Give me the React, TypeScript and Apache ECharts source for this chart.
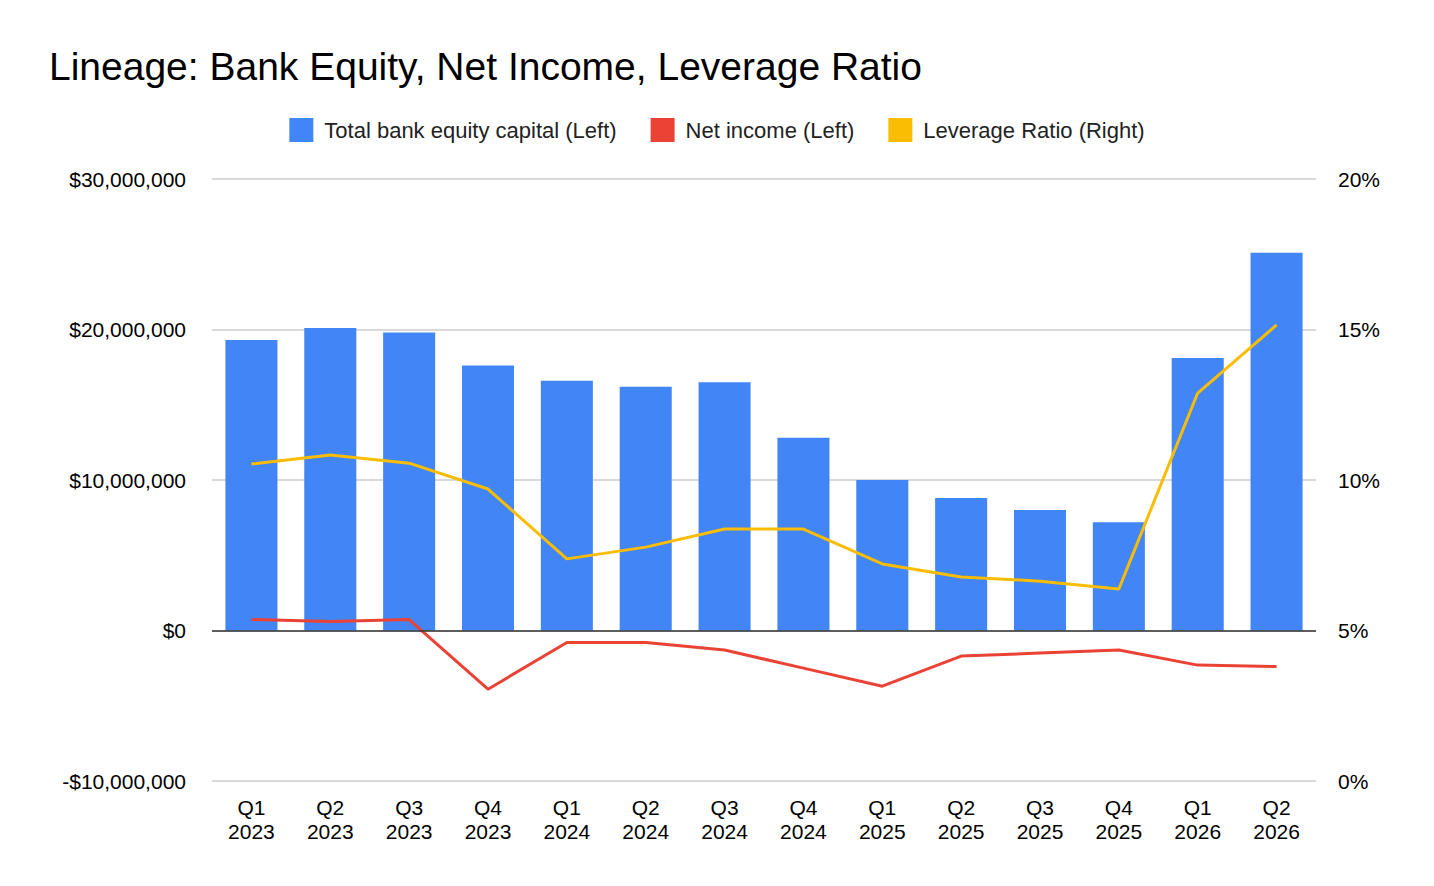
import { useEffect, useRef } from "react"
import * as echarts from "echarts"

const categories = ["Q1\n2023", "Q2\n2023", "Q3\n2023", "Q4\n2023", "Q1\n2024", "Q2\n2024", "Q3\n2024", "Q4\n2024", "Q1\n2025", "Q2\n2025", "Q3\n2025", "Q4\n2025", "Q1\n2026", "Q2\n2026"]
const equity = [19300000, 20100000, 19800000, 17600000, 16600000, 16200000, 16500000, 12800000, 10000000, 8800000, 8000000, 7200000, 18100000, 25100000]
const netIncome = [730000, 600000, 730000, -3900000, -800000, -800000, -1300000, -2500000, -3700000, -1700000, -1500000, -1300000, -2300000, -2400000]
const leverage = [10.53, 10.83, 10.56, 9.7, 7.38, 7.77, 8.37, 8.37, 7.21, 6.78, 6.64, 6.38, 12.89, 15.15]

const money = (v: number) => (v < 0 ? "-$" : "$") + Math.abs(v).toLocaleString("en-US")

export default function App() {
  const ref = useRef<HTMLDivElement>(null)

  useEffect(() => {
    document.body.style.margin = "0"
    if (!ref.current) return
    const chart = echarts.init(ref.current, null, { renderer: "svg" })
    const font = "Arial, Liberation Sans, sans-serif"
    chart.setOption({
      animation: false,
      textStyle: { fontFamily: font },
      title: {
        text: "Lineage: Bank Equity, Net Income, Leverage Ratio",
        left: 44, top: 42,
        textStyle: { fontSize: 39, fontWeight: "normal", color: "#000", fontFamily: font },
      },
      legend: {
        top: 113, left: "center", itemGap: 34,
        textStyle: { fontSize: 22, color: "#222", padding: [0, 0, 0, 6] },
        data: [
          { name: "Total bank equity capital (Left)", icon: "rect", itemStyle: { color: "#4285f4" } },
          { name: "Net income (Left)", icon: "rect" },
          { name: "Leverage Ratio (Right)", icon: "rect" },
        ],
        itemWidth: 24, itemHeight: 24,
      },
      grid: { left: 212, right: 118, top: 179, bottom: 105 },
      xAxis: {
        type: "category", data: categories,
        axisLine: { show: false }, axisTick: { show: false },
        axisLabel: { fontSize: 21, color: "#000", lineHeight: 24, margin: 14 },
      },
      yAxis: [
        {
          type: "value", min: -10000000, max: 30000000, interval: 10000000,
          axisLabel: { fontSize: 21, color: "#000", formatter: money, margin: 26 },
          splitLine: { lineStyle: { color: "#ccc", width: 1.5 } },
          axisLine: { show: false },
        },
        {
          type: "value", min: 0, max: 20, interval: 5,
          axisLabel: { fontSize: 21, color: "#000", formatter: "{value}%", margin: 22 },
          splitLine: { show: false }, axisLine: { show: false },
        },
      ],
      series: [
        {
          name: "Total bank equity capital (Left)", type: "bar", data: equity,
          itemStyle: { color: "#4285f4" }, barCategoryGap: "34%",
          markLine: {
            silent: true, symbol: "none", label: { show: false },
            lineStyle: { color: "#333", type: "solid", width: 1.5 },
            data: [{ yAxis: 0 }],
          },
        },
        {
          name: "Net income (Left)", type: "line", data: netIncome,
          showSymbol: false, lineStyle: { color: "#ea4335", width: 3 }, itemStyle: { color: "#ea4335" },
        },
        {
          name: "Leverage Ratio (Right)", type: "line", yAxisIndex: 1, data: leverage,
          showSymbol: false, lineStyle: { color: "#fbbc04", width: 3 }, itemStyle: { color: "#fbbc04" },
        },
      ],
    })
    return () => chart.dispose()
  }, [])

  return <div ref={ref} style={{ width: 1434, height: 886 }} />
}
